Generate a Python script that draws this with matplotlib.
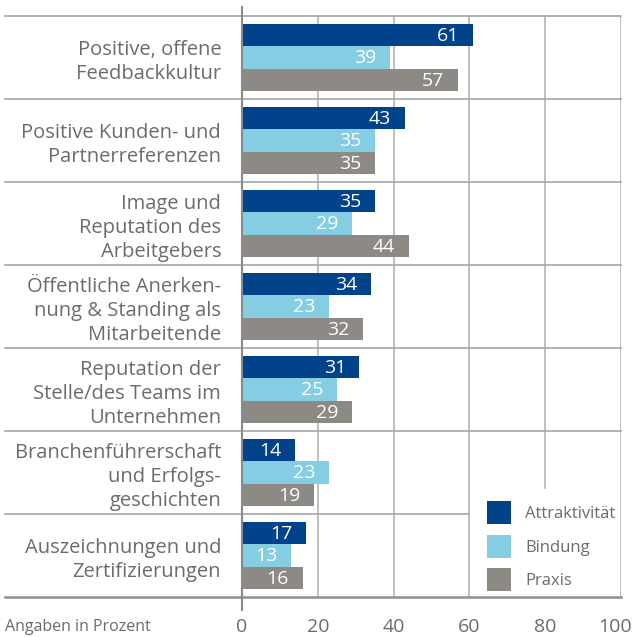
import matplotlib
matplotlib.use("Agg")
import matplotlib.pyplot as plt
import matplotlib.transforms as mtransforms
from matplotlib.patches import Patch

categories = [
    "Positive, offene\nFeedbackkultur",
    "Positive Kunden- und\nPartnerreferenzen",
    "Image und\nReputation des\nArbeitgebers",
    "Öffentliche Anerken-\nnung & Standing als\nMitarbeitende",
    "Reputation der\nStelle/des Teams im\nUnternehmen",
    "Branchenführerschaft\nund Erfolgs-\ngeschichten",
    "Auszeichnungen und\nZertifizierungen",
]
attraktivitaet = [61, 43, 35, 34, 31, 14, 17]
bindung = [39, 35, 29, 23, 25, 23, 13]
praxis = [57, 35, 44, 32, 29, 19, 16]
series_names = ["Attraktivität", "Bindung", "Praxis"]
xticks = [0, 20, 40, 60, 80, 100]

colors = ["#00438a", "#84cde3", "#8d8a86"]
text_col = "#6e6b67"
grid_col = "#b4b4b4"
sep_col = "#a5a5a5"

plt.rcParams["font.family"] = ["Open Sans", "DejaVu Sans"]

fig = plt.figure(figsize=(6.32, 6.37), dpi=100)
ax = fig.add_axes([242 / 632, 1 - 597 / 637, 379 / 632, 581 / 637])
ax.set_xlim(0, 100)
ax.set_ylim(len(categories), 0)
for s in ax.spines.values():
    s.set_visible(False)

bh = 0.271
for k, (vals, col) in enumerate(zip([attraktivitaet, bindung, praxis], colors)):
    ys = [i + 0.5 + (k - 1) * bh for i in range(len(categories))]
    ax.barh(ys, vals, height=bh, color=col, zorder=3)
    for y, v in zip(ys, vals):
        ax.text(v - 3.6, y + 0.01, str(v), color="white", fontsize=14,
                ha="right", va="center", zorder=4)

# grid lines (legend corner kept clear)
legend_top = 5.69
for x in [20, 40, 60]:
    ax.plot([x, x], [0, 7], color=grid_col, lw=1.2, zorder=1)
ax.plot([80, 80], [0, legend_top], color=grid_col, lw=1.2, zorder=1)
ax.plot([100, 100], [0, 7], color=grid_col, lw=1.2, zorder=1)

# separators between categories
for i in range(len(categories)):
    x_end = 60 if i == 6 else 100
    ax.plot([-62.5, x_end], [i, i], color=sep_col, lw=1.2, zorder=1, clip_on=False)
ax.plot([-62.5, 100], [7, 7], color="#8f8f8f", lw=1.8, zorder=1, clip_on=False)
ax.plot([0, 0], [-0.11, 7.16], color="#8a8a8a", lw=1.5, zorder=5, clip_on=False)

ax.set_yticks([i + 0.5 for i in range(len(categories))])
ax.set_yticklabels(categories, fontsize=14.5, color=text_col, linespacing=1.26)
ax.tick_params(axis="y", length=0, pad=15)
ax.set_xticks(xticks)
ax.set_xticklabels([str(t) for t in xticks], fontsize=14, color=text_col)
ax.tick_params(axis="x", length=0, pad=15)
# pull the "100" in so it stays on the canvas
last = ax.get_xticklabels()[-1]
last.set_transform(last.get_transform() +
                   mtransforms.ScaledTranslation(-6 / 100, 0, fig.dpi_scale_trans))

fig.text(5 / 632, 1 - 627 / 637, "Angaben in Prozent", fontsize=11.5, color=text_col,
         ha="left", va="center")

handles = [Patch(facecolor=c, edgecolor="none") for c in colors]
ax.legend(handles, series_names, loc="lower right", bbox_to_anchor=(1.0, 0.0),
          frameon=False, fontsize=12, labelcolor=text_col,
          handlelength=1.4, handleheight=1.75, handletextpad=0.85,
          labelspacing=0.62, borderpad=0.1, borderaxespad=0.25)

fig.savefig("out.png", dpi=100)
